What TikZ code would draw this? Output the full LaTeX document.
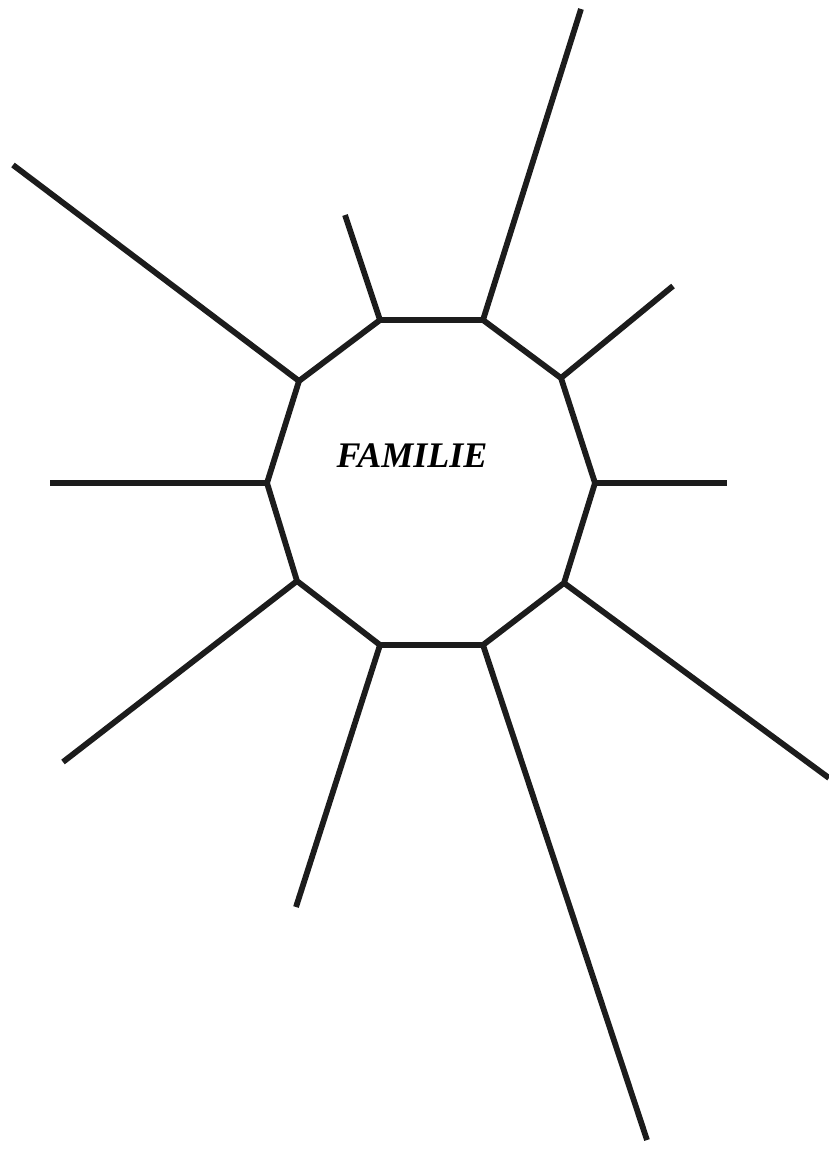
\documentclass[tikz,border=0pt]{standalone}
\usepackage{fontspec}
\setmainfont{Liberation Serif}[BoldItalicFont={Liberation Serif Bold Italic}]
\begin{document}
\begin{tikzpicture}[x=1pt,y=-1pt,
  edge/.style={line width=5.8pt,draw={rgb,255:red,28;green,28;blue,28},line join=miter},
  ray/.style={line width=5.8pt,draw={rgb,255:red,28;green,28;blue,28}}]
\useasboundingbox (0,0) rectangle (829,1151);
% decagon vertices
\coordinate (v1) at (380,320);
\coordinate (v2) at (483,320);
\coordinate (v3) at (561,378);
\coordinate (v4) at (595,483);
\coordinate (v5) at (564,583);
\coordinate (v6) at (483,645);
\coordinate (v7) at (380,645);
\coordinate (v8) at (297,581);
\coordinate (v9) at (267,483);
\coordinate (v10) at (299,381);
% ray ends
\coordinate (e1) at (345,215);
\coordinate (e2) at (581,9);
\coordinate (e3) at (673,286);
\coordinate (e4) at (727,483);
\coordinate (e5) at (829,778);
\coordinate (e6) at (647,1140);
\coordinate (e7) at (296,907);
\coordinate (e8) at (63,762);
\coordinate (e9) at (50,483);
\coordinate (e10) at (13,165);
\draw[edge] (v1)--(v2)--(v3)--(v4)--(v5)--(v6)--(v7)--(v8)--(v9)--(v10)--cycle;
\foreach \i in {1,...,10} \draw[ray] (v\i)--(e\i);
\node (t) at (412,456) {\fontsize{36}{40}\selectfont\bfseries\itshape FAMILIE};
\end{tikzpicture}
\end{document}
